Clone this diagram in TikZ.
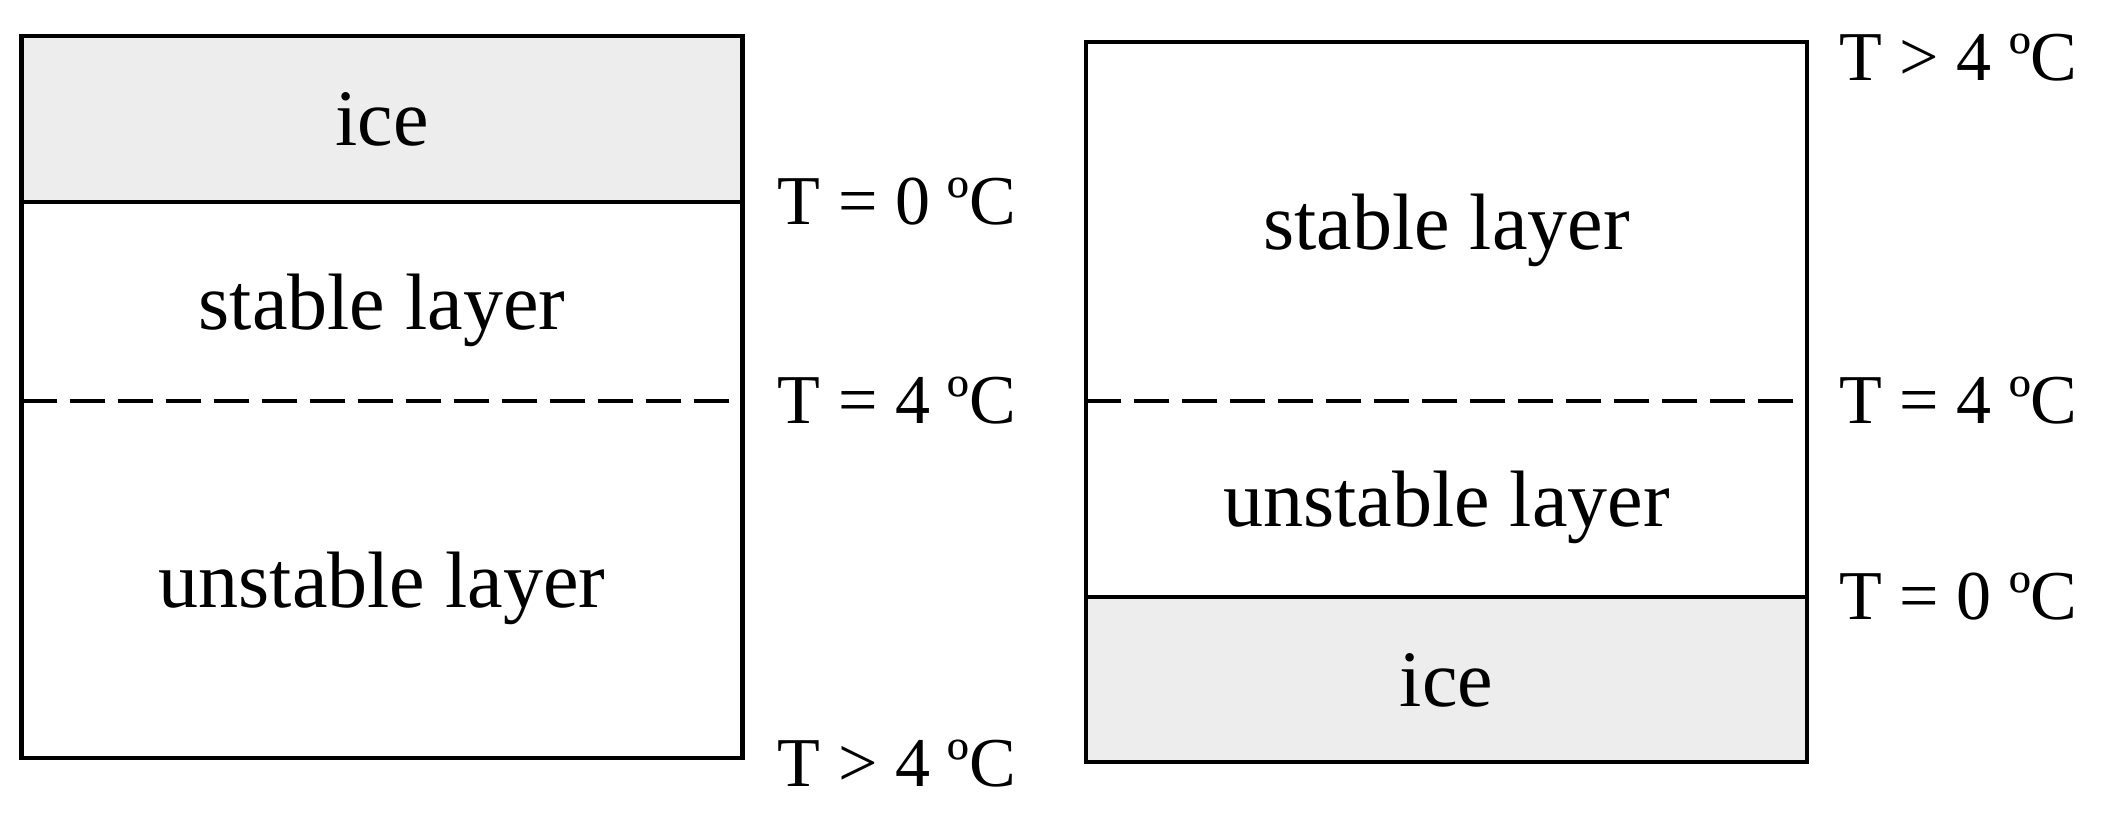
\documentclass[tikz,border=0pt]{standalone}
\usepackage{fontspec}
\setmainfont{Liberation Serif}
\usetikzlibrary{positioning}
\definecolor{icegray}{HTML}{EDEDED}

\begin{document}
\begin{tikzpicture}[x=0.5pt,y=-0.5pt, node distance=0pt,
 layer/.style={minimum width=360.5pt,inner sep=0pt,outer sep=0pt,text depth=0pt,font=\fontsize{40}{48}\selectfont},
 icelayer/.style={layer,fill=icegray},
 lbl/.style={anchor=west,inner sep=0pt,font=\fontsize{35}{42}\selectfont},
 frame/.style={draw=black,line width=2.2pt},
 iface/.style={draw=black,line width=1.8pt,dash pattern=on 17.5pt off 6.5pt}]
\useasboundingbox (0,0) rectangle (2110,816);
% left column: ice on top
\node[icelayer, minimum height=83pt, anchor=north west] (ice1) at (21.5,36) {ice};
\node[layer, minimum height=99.5pt, below=of ice1] (st1) {stable layer};
\node[layer, minimum height=178.5pt, below=of st1] (un1) {unstable layer};
\draw[frame] (ice1.north west) rectangle (un1.south east);
\draw[frame] (ice1.south west) -- (ice1.south east);
\draw[iface] (st1.south west) -- (st1.south east);
\node[lbl, right=17.5pt of ice1.south east] (t01) {T = 0 ºC};
\node[lbl, right=17.5pt of st1.south east] (t41) {T = 4 ºC};
\node[lbl, right=17.5pt of un1.south east, yshift=-3pt] (tg1) {T > 4 ºC};
% right column: ice at the bottom
\node[layer, minimum height=179.5pt, anchor=north west] (st2) at (1086,42) {stable layer};
\node[layer, minimum height=98pt, below=of st2] (un2) {unstable layer};
\node[icelayer, minimum height=82.5pt, below=of un2] (ice2) {ice};
\draw[frame] (st2.north west) rectangle (ice2.south east);
\draw[frame] (un2.south west) -- (un2.south east);
\draw[iface] (st2.south west) -- (st2.south east);
\node[lbl, right=16pt of st2.north east, yshift=-8pt] (tg2) {T > 4 ºC};
\node[lbl, right=16pt of st2.south east] (t42) {T = 4 ºC};
\node[lbl, right=16pt of un2.south east] (t02) {T = 0 ºC};
\end{tikzpicture}
\end{document}
